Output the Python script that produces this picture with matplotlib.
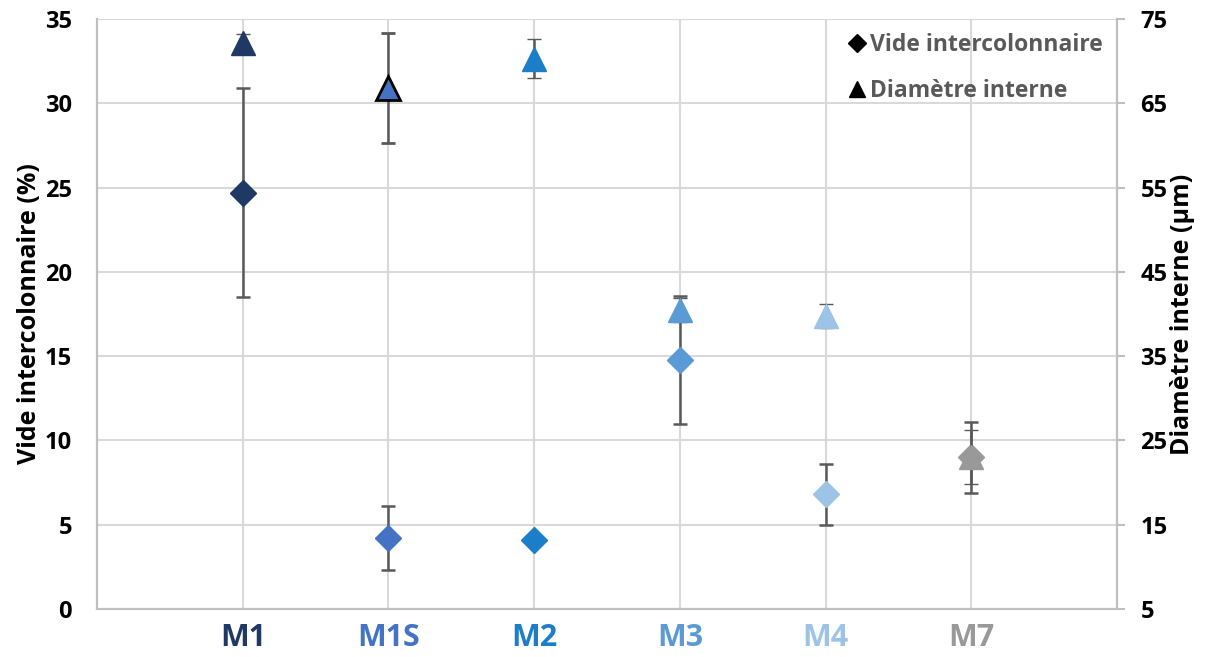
import numpy as np
import matplotlib
matplotlib.use("Agg")
import matplotlib.pyplot as plt
from matplotlib.lines import Line2D

plt.rcParams['font.family'] = ['Open Sans', 'DejaVu Sans']

samples = ["M1", "M1S", "M2", "M3", "M4", "M7"]
colors = ["#203864", "#4472C4", "#1C7DC9", "#5B9BD5", "#9DC3E6", "#999999"]

# vide intercolonnaire (%), left axis
vide = [24.7, 4.2, 4.1, 14.8, 6.8, 9.0]
vide_err = [6.2, 1.9, 0.3, 3.8, 1.8, 2.1]

# diametre interne (um), right axis
diam = [72.2, 66.8, 70.3, 40.5, 39.8, 23.0]
diam_err = [1.0, 6.5, 2.3, 1.4, 1.4, 3.2]
diam_edge = [None, "black", None, None, None, None]

err_color = "#595959"
grid_color = "#D9D9D9"


def main():
    fig = plt.figure(figsize=(12.14, 6.57), dpi=100)
    ax = fig.add_axes([0.080, 0.073, 0.840, 0.898])
    ax2 = ax.twinx()

    x = np.arange(1, len(samples) + 1)

    for i in range(len(samples)):
        ax.errorbar(x[i], vide[i], yerr=vide_err[i], fmt="D", ms=13,
                    color=colors[i], mec=colors[i], ecolor=err_color,
                    elinewidth=1.8, capsize=5, capthick=1.8, zorder=3)
        ec = diam_edge[i] if diam_edge[i] else colors[i]
        ax2.errorbar(x[i], diam[i], yerr=diam_err[i], fmt="^", ms=17,
                     color=colors[i], mec=ec, mew=2 if diam_edge[i] else 1,
                     ecolor=err_color, elinewidth=1.8, capsize=5,
                     capthick=1.8, zorder=3)

    ax.set_xlim(0, 7)
    ax.set_ylim(0, 35)
    ax.set_yticks(np.arange(0, 36, 5))
    ax2.set_ylim(5, 75)
    ax2.set_yticks(np.arange(5, 76, 10))

    ax.set_xticks(x)
    ax.set_xticklabels(samples, fontsize=22, fontweight="bold")
    for lbl, c in zip(ax.get_xticklabels(), colors):
        lbl.set_color(c)

    ax.grid(True, color=grid_color, linewidth=1.5, zorder=0)
    ax.set_axisbelow(True)

    for a in (ax, ax2):
        for s in a.spines.values():
            s.set_color("#BFBFBF")
            s.set_linewidth(1.5)
        a.spines["top"].set_visible(False)

    ax.tick_params(axis="x", length=0, pad=10)
    ax.tick_params(axis="y", length=0, pad=18, labelsize=17)
    ax2.tick_params(axis="y", length=6, width=1.5, color="#BFBFBF",
                    labelsize=17, pad=11)
    for lbl in ax.get_yticklabels() + ax2.get_yticklabels():
        lbl.set_fontweight("bold")

    ax.set_ylabel("Vide intercolonnaire (%)", fontsize=18, fontweight="bold",
                  labelpad=2)
    ax2.set_ylabel("Diamètre interne (µm)", fontsize=18, fontweight="bold",
                   labelpad=2)

    handles = [
        Line2D([], [], ls="none", marker="D", ms=9, color="black"),
        Line2D([], [], ls="none", marker="^", ms=12, color="black"),
    ]
    leg = ax2.legend(handles, ["Vide intercolonnaire", "Diamètre interne"],
                     loc="upper right", frameon=False, fontsize=16.5,
                     handlelength=0.6, handletextpad=0.3, labelspacing=0.95,
                     borderaxespad=0.2)
    for t in leg.get_texts():
        t.set_color("#595959")
        t.set_fontweight("bold")

    fig.savefig("out.png", dpi=100)


if __name__ == '__main__':
    main()
